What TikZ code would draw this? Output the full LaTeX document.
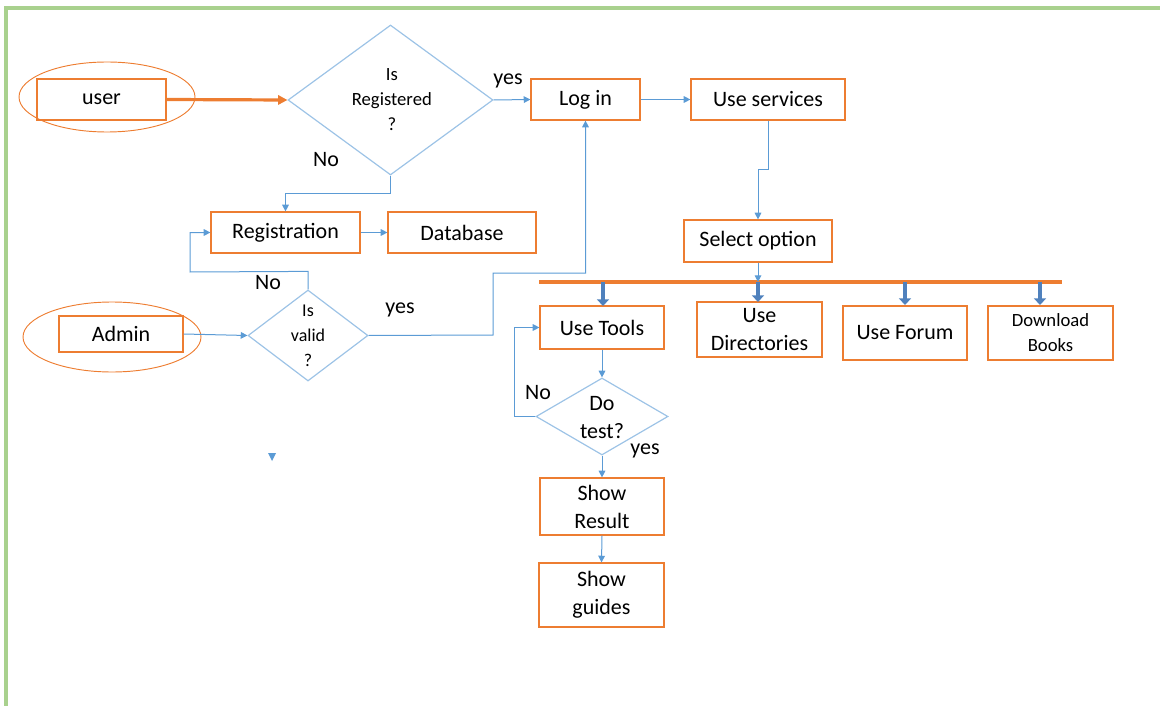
\documentclass[tikz,border=0pt]{standalone}
\usepackage{fontspec}
\setmainfont{Carlito}
\usetikzlibrary{arrows.meta,shapes.geometric}
\definecolor{boxorange}{HTML}{ED7D31}
\definecolor{linkblue}{HTML}{5B9BD5}
\definecolor{diablue}{HTML}{9DC3E6}
\definecolor{fatblue}{HTML}{4F81BD}
\definecolor{framegreen}{HTML}{A9D18E}
\tikzset{
  stepbox/.style={draw=boxorange, line width=0.9pt, rectangle, inner sep=0pt,
    align=center, font=\fontsize{16.5}{21}\selectfont},
  ring/.style={draw=boxorange, line width=0.7pt, ellipse, inner sep=0pt},
  choice/.style={draw=diablue, line width=0.9pt, diamond, inner sep=0pt},
  link/.style={draw=linkblue, line width=0.75pt, -{Triangle[length=5pt,width=5pt]}},
  fatlink/.style={draw=fatblue, line width=3.6pt, -{Triangle[length=5pt,width=9pt]}},
  tag/.style={font=\fontsize{16.5}{19}\selectfont, inner sep=0pt},
}
\begin{document}
\begin{tikzpicture}[x=0.75pt,y=-0.75pt]
\useasboundingbox (0,0) rectangle (1160,706);

% frame
\draw[framegreen, line width=2.3pt] (6,706) -- (6,8) -- (1160,8);

% actors
\node[ring, minimum width=176*0.75pt, minimum height=70*0.75pt] (userring) at (107,97) {};
\node[stepbox, minimum width=129*0.75pt, minimum height=41*0.75pt] (user) at (101.5,99.5) {user};
\node[ring, minimum width=178*0.75pt, minimum height=70*0.75pt] (adminring) at (112,337) {};
\node[stepbox, minimum width=124*0.75pt, minimum height=36*0.75pt] (admin) at (121,334) {Admin};

% decisions
\node[choice, minimum width=205*0.75pt, minimum height=150*0.75pt,
  label={[align=center, font=\fontsize{14}{18.75}\selectfont, xshift=1pt]center:Is\\Registered\\?}] (isreg) at (390.5,100) {};
\node[choice, minimum width=120*0.75pt, minimum height=91*0.75pt,
  label={[align=center, font=\fontsize{13.5}{18.75}\selectfont]center:Is\\valid\\?}] (isvalid) at (308,335.5) {};
\node[choice, minimum width=132*0.75pt, minimum height=77*0.75pt,
  label={[align=center, font=\fontsize{16.5}{21}\selectfont, yshift=-0.5pt]center:Do\\test?}] (dotest) at (602,416.5) {};

% process boxes
\node[stepbox, minimum width=109*0.75pt, minimum height=41*0.75pt] (login) at (585.5,99.5) {Log in};
\node[stepbox, minimum width=154*0.75pt, minimum height=41*0.75pt] (services) at (768,99.5) {Use services};
\node[stepbox, minimum width=148*0.75pt, minimum height=42*0.75pt] (select) at (758,241) {Select option};
\node[stepbox, minimum width=149*0.75pt, minimum height=41*0.75pt] (reg) at (285.5,232.5) {Registration};
\node[stepbox, minimum width=148*0.75pt, minimum height=41*0.75pt] (db) at (462,232.5) {Database};
\node[stepbox, minimum width=124*0.75pt, minimum height=43*0.75pt] (tools) at (602,327.5) {Use Tools};
\node[stepbox, minimum width=125*0.75pt, minimum height=55*0.75pt] (dirs) at (759.5,329.5) {Use\\Directories};
\node[stepbox, minimum width=124*0.75pt, minimum height=54*0.75pt] (forum) at (905,333) {Use Forum};
\node[stepbox, minimum width=125*0.75pt, minimum height=54*0.75pt,
  font=\fontsize{14}{18.75}\selectfont] (books) at (1050.5,333) {Download\\Books};
\node[stepbox, minimum width=124*0.75pt, minimum height=57*0.75pt] (result) at (602,506.5) {Show\\Result};
\node[stepbox, minimum width=125*0.75pt, minimum height=64*0.75pt] (guides) at (601.5,595) {Show\\guides};

% option bar
\coordinate (barL) at (539,282);
\coordinate (barR) at (1062,282);
\draw[boxorange, line width=3pt] (barL) -- (barR);

% connectors
\draw[draw=boxorange, line width=2.4pt, -{Triangle[length=7pt,width=7pt]}] (user.east) -- (isreg.west);
\draw[link] (isreg.east) -- (login.west);
\draw[link] (login.east) -- (services.west);
\draw[link] (services.south) -- (768,170) -- (758,170) -- (select.north);
\draw[link] (select.south) -- (select.south |- barL);
\draw[link] (isreg.south) -- ++(0,18) -| (reg.north);
\draw[link] (reg.east) -- (db.west);
\draw[link] (isvalid.north) -- ++(0,-18) -- (190,272) |- (reg.west);
\draw[link] (admin.east) -- (isvalid.west);
\draw[link] (isvalid.east) -- (493,335) -- (493,273) -| (login.south);
\draw[link] (tools.south) -- (dotest.north);
\draw[link] (dotest.west) -- (514,416.5) |- (tools.west);
\draw[link] (dotest.south) -- (result.north);
\draw[link] (result.south) -- (guides.north);

% fan-out from the option bar
\draw[fatlink] (603,282) -- (603,306);
\draw[fatlink] (758,282) -- (758,302);
\draw[fatlink] (905,282) -- (905,305);
\draw[fatlink] (1040,282) -- (1040,305);

% branch labels
\node[tag] (lyes1) at (508,81) {yes};
\node[tag] (lno1) at (326,160) {No};
\node[tag] (lno2) at (268,283) {No};
\node[tag] (lyes2) at (400,310) {yes};
\node[tag] (lno3) at (538,393) {No};
\node[tag] (lyes3) at (645,451) {yes};

% stray arrow tip
\fill[linkblue] (268,453) -- (276,453) -- (272,461) -- cycle;
\end{tikzpicture}
\end{document}
